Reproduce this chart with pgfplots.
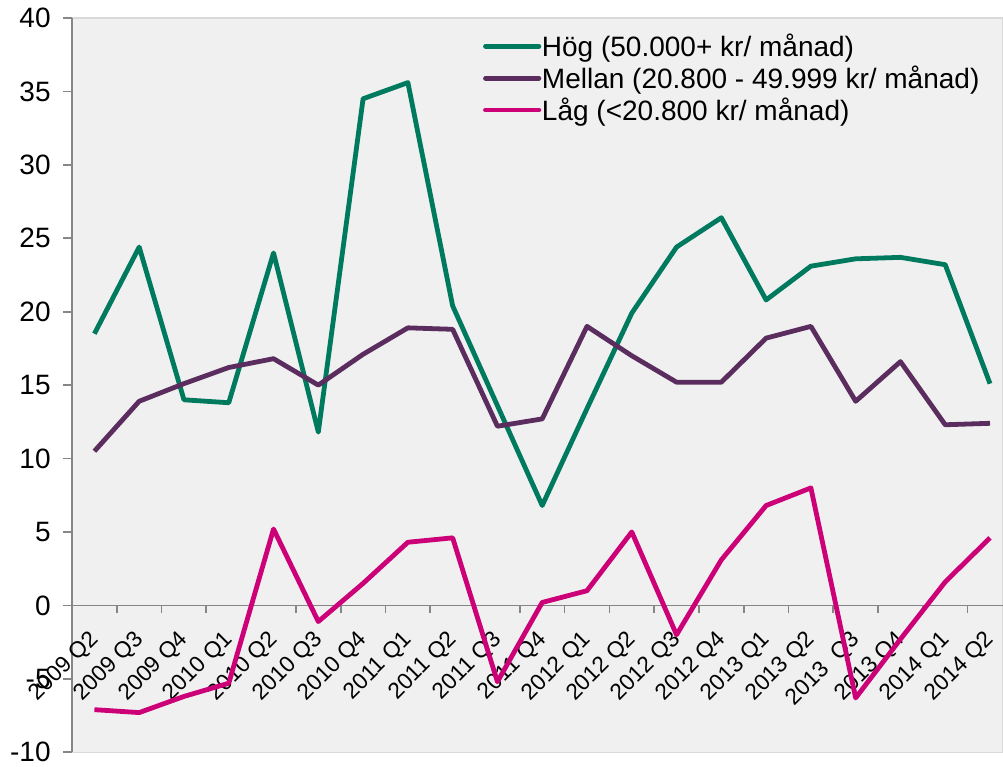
\documentclass[border=0pt]{standalone}
\usepackage{pgfplots}
\pgfplotsset{compat=1.18}
\usepackage{fontspec}
\setmainfont{Liberation Sans}

\definecolor{hog}{RGB}{0,122,94}
\definecolor{mellan}{RGB}{90,45,94}
\definecolor{lag}{RGB}{204,0,119}
\definecolor{bg}{RGB}{240,240,240}
\definecolor{axgray}{RGB}{134,134,134}

\begin{document}
\begin{tikzpicture}
	\begin{axis}[
			name=ax,
			scale only axis,
			width=698pt,
			height=550.5pt,
			xmin=-0.5, xmax=20.29,
			ymin=-10, ymax=40,
			axis x line=middle,
			axis y line=left,
			axis line style={axgray, line width=1.3pt, -},
			axis background/.style={fill=bg, draw=black!15, line width=1pt},
			xtick={0,...,20},
			xticklabels={2009 Q2,2009 Q3,2009 Q4,2010 Q1,2010 Q2,2010 Q3,2010 Q4,2011 Q1,2011 Q2,2011 Q3,2011 Q4,2012 Q1,2012 Q2,2012 Q3,2012 Q4,2013 Q1,2013 Q2,2013\ \ Q3,2013 Q4,2014 Q1,2014 Q2},
			major x tick style={draw=none},
			minor xtick={0.5,1.5,...,19.5},
			minor x tick style={axgray, line width=1.3pt},
			minor tick length=6pt,
			x tick label style={font=\fontsize{17}{20}\selectfont, yshift=-14pt, xshift=3pt, rotate=45, anchor=east},
			ytick={-10,-5,...,40},
			yticklabels={-10,-5,0,5,10,15,20,25,30,35,40},
			y tick label style={font=\fontsize{21}{25}\selectfont, xshift=-6pt},
			major y tick style={axgray, line width=1.3pt},
			major tick length=6.5pt,
			tick align=outside,
			legend style={draw=none, fill=none, at={(0.437,0.985)}, anchor=north west,
				font=\fontsize{21}{25}\selectfont, row sep=2.5pt,
				nodes={inner ysep=1.5pt, inner xsep=0.5pt}},
			legend cell align=left,
			legend image code/.code={\draw[#1, line cap=round] (0pt,0pt) -- (40pt,0pt);},
			every axis plot/.append style={line width=3.6pt, line join=round},
			clip=false,
		]
		\addplot[hog] coordinates {
			(0,18.5) (1,24.4) (2,14.0) (3,13.8) (4,24.0) (5,11.8) (6,34.5)
			(7,35.6) (8,20.4) (9,13.6) (10,6.8) (11,13.4) (12,19.9) (13,24.4)
			(14,26.4) (15,20.8) (16,23.1) (17,23.6) (18,23.7) (19,23.2) (20,15.1)};
		\addlegendentry{Hög (50.000+ kr/ månad)}
		\addplot[mellan] coordinates {
			(0,10.5) (1,13.9) (2,15.1) (3,16.2) (4,16.8) (5,15.0) (6,17.1)
			(7,18.9) (8,18.8) (9,12.2) (10,12.7) (11,19.0) (12,17.0) (13,15.2)
			(14,15.2) (15,18.2) (16,19.0) (17,13.9) (18,16.6) (19,12.3) (20,12.4)};
		\addlegendentry{Mellan (20.800 - 49.999 kr/ månad)}
		\addplot[lag] coordinates {
			(0,-7.1) (1,-7.3) (2,-6.2) (3,-5.3) (4,5.2) (5,-1.1) (6,1.5)
			(7,4.3) (8,4.6) (9,-5.2) (10,0.2) (11,1.0) (12,5.0) (13,-2.0)
			(14,3.1) (15,6.8) (16,8.0) (17,-6.3) (18,-2.3) (19,1.6) (20,4.6)};
		\addlegendentry{Låg (<20.800 kr/ månad)}
	\end{axis}
	\pgfresetboundingbox
	\path[use as bounding box] ([xshift=-54pt,yshift=-10.5pt]ax.south west) rectangle ([yshift=13.5pt]ax.north east);
\end{tikzpicture}
\end{document}
